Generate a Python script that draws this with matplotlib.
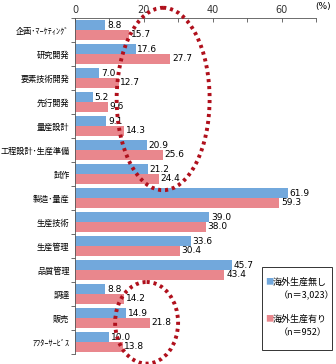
import matplotlib

matplotlib.use("Agg")
import matplotlib.pyplot as plt
import numpy as np
from matplotlib.patches import Ellipse, Rectangle

plt.rcParams["font.family"] = ["Noto Sans CJK JP", "DejaVu Sans"]

categories = ["企画･ﾏｰｹﾃｨﾝｸﾞ", "研究開発", "要素技術開発", "先行開発", "量産設計",
              "工程設計･生産準備", "試作", "製造･量産", "生産技術", "生産管理",
              "品質管理", "調達", "販売", "ｱﾌﾀｰｻｰﾋﾞｽ"]
no_overseas = [8.8, 17.6, 7.0, 5.2, 9.1, 20.9, 21.2, 61.9, 39.0, 33.6, 45.7, 8.8, 14.9, 10.0]
with_overseas = [15.7, 27.7, 12.7, 9.6, 14.3, 25.6, 24.4, 59.3, 38.0, 30.4, 43.4, 14.2, 21.8, 13.8]
series_labels = ["海外生産無し\n（n＝3,023）", "海外生産有り\n（n＝952）"]
colors = ["#72a8dc", "#e9878d"]

W, H = 336, 364
fig = plt.figure(figsize=(W / 100, H / 100), dpi=100)
left, right, top, bottom = 75, 316, 18, 354
ax = fig.add_axes([left / W, 1 - bottom / H, (right - left) / W, (bottom - top) / H])

y = np.arange(len(categories))
bh = 0.4
ax.barh(y - bh / 2, no_overseas, height=bh, color=colors[0])
ax.barh(y + bh / 2, with_overseas, height=bh, color=colors[1])
for i, (a, b) in enumerate(zip(no_overseas, with_overseas)):
    ax.text(a + 0.5, i - bh / 2, f"{a:.1f}", va="center", ha="left", fontsize=6.5,
            family="DejaVu Sans")
    ax.text(b + 0.5, i + bh / 2, f"{b:.1f}", va="center", ha="left", fontsize=6.5,
            family="DejaVu Sans")

ax.set_xlim(0, 70)
ax.set_ylim(len(categories) - 0.5, -0.5)
ax.xaxis.tick_top()
ax.set_xticks(np.arange(0, 71, 10))
ax.set_xticklabels(["0", "", "20", "", "40", "", "60", ""], fontsize=7, family="DejaVu Sans")
ax.tick_params(axis="x", direction="in", length=3, width=0.6, pad=2, colors="#555555",
               labelcolor="#333333")
ax.set_yticks(y)
ax.set_yticklabels(categories, fontsize=5.9)
ax.tick_params(axis="y", length=0, pad=4)
ax.set_yticks(np.arange(-0.5, len(categories), 1), minor=True)
ax.tick_params(axis="y", which="minor", direction="out", length=3, width=0.6, colors="#555555")
for s in ["right", "bottom"]:
    ax.spines[s].set_visible(False)
for s in ["left", "top"]:
    ax.spines[s].set_linewidth(0.6)
    ax.spines[s].set_color("#555555")
fig.text(323 / W, 1 - 7 / H, "(%)", ha="center", va="center", fontsize=6.5,
         family="DejaVu Sans")

# dotted highlight ellipses
for cx, cy, w, h in [(25.6, 2.875, 27.0, 7.6), (20.8, 12.2, 18.3, 3.4)]:
    ax.add_patch(Ellipse((cx, cy), w, h, fill=False, edgecolor="#b0101c", lw=2.8,
                         linestyle=(0, (0.8, 1.0)), clip_on=False, zorder=5))

# legend box
fig.patches.append(Rectangle((262 / W, 1 - 350 / H), 70 / W, 83 / H, transform=fig.transFigure,
                             fill=False, edgecolor="#333333", lw=0.7))
for k, (lab, c) in enumerate(zip(series_labels, colors)):
    ty = 282 + k * 37
    fig.text(265 / W, 1 - ty / H, "■", color=c, fontsize=6, va="center", ha="left")
    l1, l2 = lab.split("\n")
    fig.text(273 / W, 1 - ty / H, l1, fontsize=6.5, va="center", ha="left")
    fig.text(279 / W, 1 - (ty + 14) / H, l2, fontsize=6.5, va="center", ha="left")

fig.savefig("out.png", dpi=100)
